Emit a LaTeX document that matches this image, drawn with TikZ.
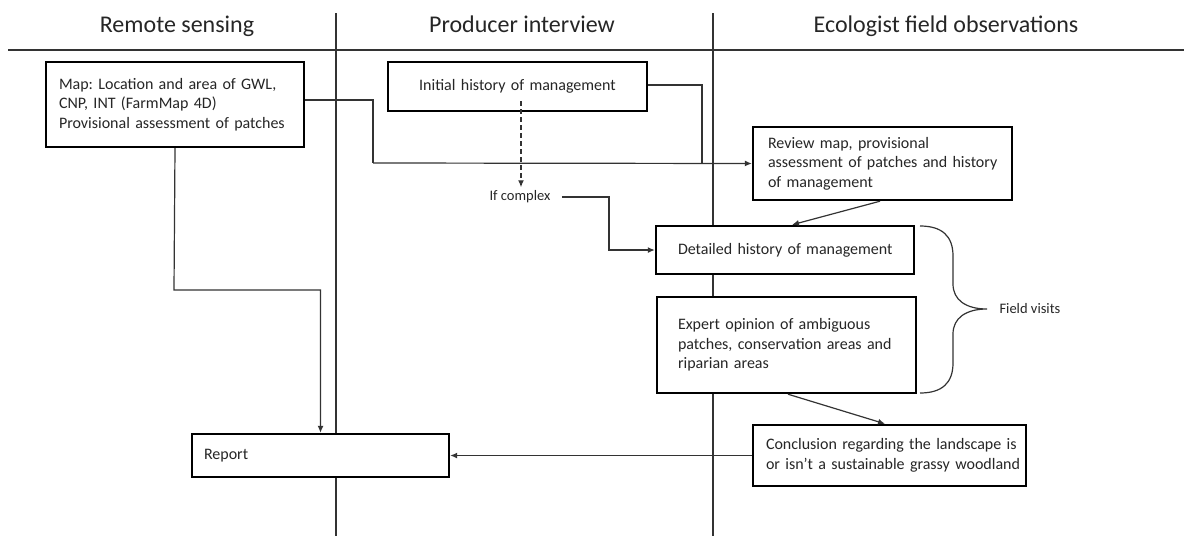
\documentclass[tikz,border=0pt]{standalone}
\usepackage{fontspec}
\setmainfont{Carlito}
\frenchspacing
\usetikzlibrary{arrows.meta,calc}
\definecolor{txt}{HTML}{262626}
\definecolor{ln}{HTML}{333333}
\tikzset{
  box/.style={draw=black, line width=2.4pt, fill=white, inner ysep=0pt,
    font=\fontsize{16}{19.5}\selectfont, text=txt, align=left},
  head/.style={font=\fontsize{24}{28}\selectfont, text=txt, anchor=base},
  lane/.style={draw=ln, line width=1.2pt},
  conn/.style={draw=ln, line width=1.2pt},
  arr/.style={conn, -{Latex[length=7pt,width=6pt]}},
  lbl/.style={font=\fontsize{14.5}{17}\selectfont, text=txt}
}
\newcommand{\ml}[1]{\mbox{#1}}
\begin{document}
\begin{tikzpicture}[x=1pt,y=-1pt]
\useasboundingbox (0,0) rectangle (1184,536);
% lanes
\draw[lane] (8,50) -- (1184,50);
\draw[lane] (336,13) -- (336,536);
\draw[lane] (713,13) -- (713,536);
% headers
\node[head] (h1) at (177,32) {Remote sensing};
\node[head] (h2) at (522,32) {Producer interview};
\node[head] (h3) at (946,32) {Ecologist field observations};
% boxes
\node[box, minimum width=258pt, minimum height=85pt, inner xsep=13pt, text width=232pt] (map) at (175,104.5)
  {\ml{Map: Location and area of GWL,}\\\ml{CNP, INT (FarmMap 4D)}\\\ml{Provisional assessment of patches}};
\node[box, minimum width=259pt, minimum height=49pt, inner xsep=10pt, text width=239pt, align=center] (init) at (517.5,86.5)
  {Initial history of management};
\node[box, minimum width=259pt, minimum height=73pt, inner xsep=15pt, text width=229pt] (review) at (882.5,163.5)
  {\ml{Review map, provisional}\\\ml{assessment of patches and history}\\\ml{of management}};
\node[box, minimum width=258pt, minimum height=48pt, inner xsep=22pt, text width=214pt] (detail) at (785,250)
  {\ml{Detailed history of management}};
\node[box, minimum width=259pt, minimum height=96pt, inner xsep=21pt, text width=217pt] (expert) at (786.5,345)
  {\ml{Expert opinion of ambiguous}\\\ml{patches, conservation areas and}\\\ml{riparian areas}\\[4pt]};
\node[box, minimum width=273pt, minimum height=61pt, inner xsep=13pt, text width=247pt] (concl) at (889.5,455.5)
  {\ml{Conclusion regarding the landscape is}\\\ml{or isn't a sustainable grassy woodland}};
\node[box, minimum width=257pt, minimum height=43pt, inner xsep=12pt, text width=233pt] (report) at (320.5,455.5)
  {Report};
\node[lbl] (ifc) at (520,197) {If complex};
\node[lbl, anchor=west] (fv) at (996,309) {Field visits};
% connectors
\coordinate (j1) at (373,163);
\coordinate (j2) at (702,163);
\coordinate (b1) at (609,197);
\draw[conn] ([yshift=4.5pt]map.east) -| (j1);
\draw[arr] (j1) -- (review.west);
\draw[conn] ([yshift=1.5pt]init.east) -| (j2);
\draw[arr, dash pattern=on 5pt off 3pt] ([xshift=3.5pt,yshift=11pt]init.south) -- ([xshift=3.5pt]init.south |- ifc.north);
\draw[arr] ([xshift=8pt]ifc.east) -- (b1) |- (detail.west);
\draw[arr] ([xshift=-2.5pt]review.south) -- ([xshift=7pt]detail.north);
\draw[arr] (map.south) -- (174,290) -| (report.north);
\draw[arr] ([xshift=1.5pt]expert.south) -- ([xshift=-4.5pt]concl.north);
\draw[arr] (concl.west) -- (report.east);
% brace
\draw[conn] (920,226) .. controls (942,226) and (953,236) .. (953,256)
  -- (953,284) .. controls (953,300) and (966,309) .. (987,309)
  .. controls (966,309) and (953,318) .. (953,334)
  -- (953,363) .. controls (953,383) and (942,393) .. (920,393);
\end{tikzpicture}
\end{document}
